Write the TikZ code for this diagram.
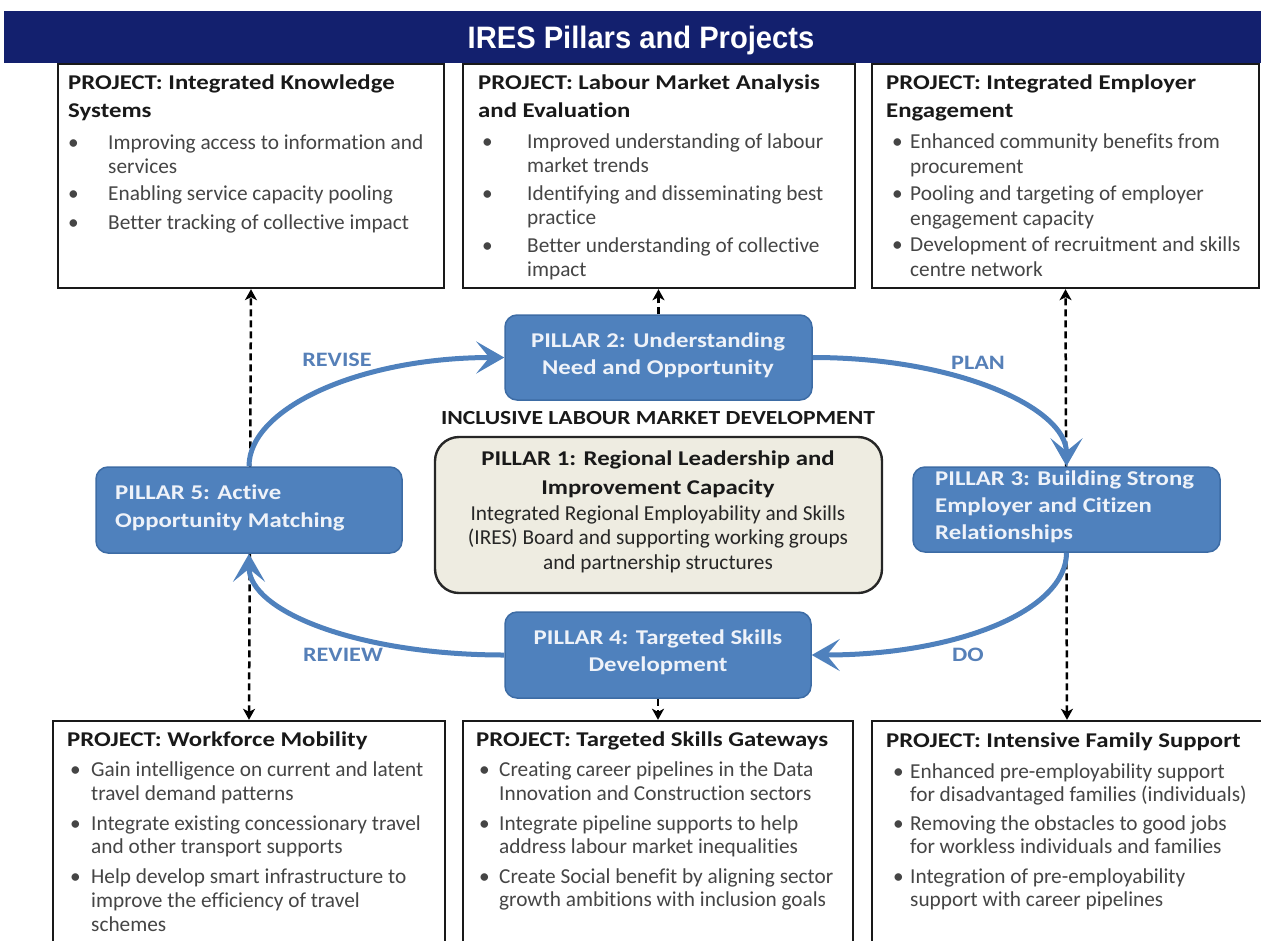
\documentclass[tikz,border=0pt]{standalone}
\usepackage{fontspec}
\setmainfont{Carlito}[Ligatures=NoCommon]
\newfontfamily\wbold{Carlito}[FakeStretch=1.18,Ligatures=NoCommon]
\newfontfamily\arialf{Liberation Sans}[FakeStretch=0.94]
\usetikzlibrary{arrows.meta}
\pgfdeclarelayer{bg}
\pgfsetlayers{bg,main}
\definecolor{navy}{HTML}{13206E}
\definecolor{pblue}{HTML}{4F81BD}
\definecolor{pborder}{HTML}{3D6CA5}
\definecolor{beige}{HTML}{EEECE1}
\definecolor{bodygray}{HTML}{454545}
\definecolor{lblblue}{HTML}{5680B8}
\definecolor{ptxt}{HTML}{EEF2F9}
\tikzset{
  projbox/.style={draw=black!90, line width=2.4pt, fill=white, inner sep=0pt},
  pillarbox/.style={draw=pborder, line width=1.5pt, fill=pblue, rounded corners=12pt, inner sep=0pt},
  corebox/.style={draw=black!85, line width=2.4pt, fill=beige, rounded corners=24pt, inner sep=0pt},
  ptext/.style={text=ptxt, font=\wbold\fontsize{21}{24}\selectfont\bfseries, inner sep=0pt},
  htext/.style={anchor=mid west, inner sep=0pt, font=\wbold\fontsize{21}{24}\selectfont\bfseries, text=black!90},
  btext/.style={anchor=mid west, inner sep=0pt, font=\fontsize{21.3}{24}\selectfont, text=bodygray},
  ctext/.style={anchor=mid, inner sep=0pt, font=\fontsize{21.3}{24}\selectfont, text=black!85},
  cbold/.style={anchor=mid, inner sep=0pt, font=\wbold\fontsize{21}{24}\selectfont\bfseries, text=black!90},
  lbl/.style={anchor=center, inner sep=0pt, font=\wbold\fontsize{20.5}{22}\selectfont\bfseries, text=lblblue},
  dasharrow/.style={draw=black, line width=2.5pt, dash pattern=on 7pt off 4pt,
    {Stealth[length=11pt,width=12pt,inset=3pt]}-{Stealth[length=11pt,width=12pt,inset=3pt]}},
  dashone/.style={draw=black, line width=2.5pt, dash pattern=on 7pt off 4pt,
    -{Stealth[length=11pt,width=12pt,inset=3pt]}},
  bluearrow/.style={draw=pblue, line width=5pt, -{Stealth[length=28pt,width=32pt,inset=13pt]}},
}
\newcommand\rect[6]{\node[#2, minimum width={(#5-#3)*1pt}, minimum height={(#6-#4)*1pt}] (#1) at ({(#3+#5)/2},{(#4+#6)/2}) {};}
\newcommand\bitem[5]{\node[btext] (#1b) at (#2,#4) {\textbullet}; \node[btext] (#1) at (#3,#4) {#5};}
\newcommand\bline[4]{\node[btext] (#1) at (#2,#3) {#4};}
\begin{document}
\begin{tikzpicture}[x=1pt,y=-1pt]
\useasboundingbox (0,0) rectangle (1261,940);
\clip (0,0) rectangle (1261,940);
% title
\rect{titlebar}{fill=navy, inner sep=0pt}{4}{11}{1261}{63}
\node[text=white, font=\arialf\fontsize{31}{34}\selectfont\bfseries, inner sep=0pt, anchor=center] (title) at (641,40) {IRES Pillars and Projects};
% project boxes
\rect{A}{projbox}{58}{64}{444}{288}
\rect{B}{projbox}{463}{64}{855}{288}
\rect{C}{projbox}{872}{64}{1259}{288}
\rect{D}{projbox}{53}{721}{445}{960}
\rect{E}{projbox}{463}{721}{853}{960}
\rect{F}{projbox}{872}{721}{1262}{960}
% pillars
\rect{P2}{pillarbox}{505}{315}{812}{400}
\rect{P1}{corebox}{435}{437}{882}{593}
\rect{P5}{pillarbox}{96}{467}{402}{553}
\rect{P3}{pillarbox}{913}{467}{1220}{552}
\rect{P4}{pillarbox}{505}{612}{811}{698}
% dashed connectors
\begin{pgfonlayer}{bg}
\draw[dasharrow] (D.north) -- (A.south);
\draw[dasharrow] (F.north) -- (C.south);
\end{pgfonlayer}
\draw[dashone] (P2.north) -- (P2.north |- B.south);
\draw[dashone] (P4.south) -- (P4.south |- E.north);
% cycle arrows
\draw[bluearrow] (P5.north) .. controls +(0,-58) and +(-145,0) .. (P2.west);
\draw[bluearrow] (P2.east) .. controls +(145,0) and +(0,-58) .. (P3.north);
\draw[bluearrow] (P3.south) .. controls +(0,58) and +(145,0) .. (P4.east);
\draw[bluearrow] (P4.west) .. controls +(-145,0) and +(0,58) .. (P5.south);
\node[lbl] (lrevise) at (337,360) {REVISE};
\node[lbl] (lplan) at (978,363) {PLAN};
\node[lbl] (ldo) at (968,655) {DO};
\node[lbl] (lreview) at (343,655) {REVIEW};
% pillar texts
\node[ptext, anchor=mid] (p2a) at (658,345) {PILLAR 2: Understanding};
\node[ptext, anchor=mid] (p2b) at (658,372) {Need and Opportunity};
\node[ptext, anchor=mid] (p4a) at (658,642) {PILLAR 4: Targeted Skills};
\node[ptext, anchor=mid] (p4b) at (658,669) {Development};
\node[ptext, anchor=mid west] (p5a) at (115,497) {PILLAR 5: Active};
\node[ptext, anchor=mid west] (p5b) at (115,525) {Opportunity Matching};
\node[ptext, anchor=mid west] (p3a) at (935,483) {PILLAR 3: Building Strong};
\node[ptext, anchor=mid west] (p3b) at (935,510) {Employer and Citizen};
\node[ptext, anchor=mid west] (p3c) at (935,537) {Relationships};
\node[cbold, font=\wbold\fontsize{20}{24}\selectfont\bfseries] (ilmd) at (658,422) {INCLUSIVE LABOUR MARKET DEVELOPMENT};
\node[cbold] (p1a) at (658,463) {PILLAR 1: Regional Leadership and};
\node[cbold] (p1b) at (658,492) {Improvement Capacity};
\node[ctext] (p1c) at (658,518) {Integrated Regional Employability and Skills};
\node[ctext] (p1d) at (658,542) {(IRES) Board and supporting working groups};
\node[ctext] (p1e) at (658,567) {and partnership structures};
% box A
\node[htext] (ah1) at (68,87) {PROJECT: Integrated Knowledge};
\node[htext] (ah2) at (68,115) {Systems};
\bitem{a1}{68}{108}{147}{Improving access to information and}
\bline{a1c}{108}{171}{services}
\bitem{a2}{68}{108}{198}{Enabling service capacity pooling}
\bitem{a3}{68}{108}{227}{Better tracking of collective impact}
% box B
\node[htext] (bh1) at (478,87) {PROJECT: Labour Market Analysis};
\node[htext] (bh2) at (478,115) {and Evaluation};
\bitem{b1}{482}{527}{146}{Improved understanding of labour}
\bline{b1c}{527}{170}{market trends}
\bitem{b2}{482}{527}{198}{Identifying and disseminating best}
\bline{b2c}{527}{222}{practice}
\bitem{b3}{482}{527}{250}{Better understanding of collective}
\bline{b3c}{527}{274}{impact}
% box C
\node[htext] (ch1) at (886,87) {PROJECT: Integrated Employer};
\node[htext] (ch2) at (886,115) {Engagement};
\bitem{c1}{892}{910}{146}{Enhanced community benefits from}
\bline{c1c}{910}{171}{procurement}
\bitem{c2}{892}{910}{198}{Pooling and targeting of employer}
\bline{c2c}{910}{223}{engagement capacity}
\bitem{c3}{892}{910}{249}{Development of recruitment and skills}
\bline{c3c}{910}{274}{centre network}
% box D
\node[htext] (dh1) at (67,744) {PROJECT: Workforce Mobility};
\bitem{d1}{70}{91}{774}{Gain intelligence on current and latent}
\bline{d1c}{91}{798}{travel demand patterns}
\bitem{d2}{70}{91}{828}{Integrate existing concessionary travel}
\bline{d2c}{91}{851}{and other transport supports}
\bitem{d3}{70}{91}{881}{Help develop smart infrastructure to}
\bline{d3c}{91}{905}{improve the efficiency of travel}
\bline{d3d}{91}{929}{schemes}
% box E
\node[htext] (eh1) at (476,744) {PROJECT: Targeted Skills Gateways};
\bitem{e1}{479}{499}{774}{Creating career pipelines in the Data}
\bline{e1c}{499}{798}{Innovation and Construction sectors}
\bitem{e2}{479}{499}{828}{Integrate pipeline supports to help}
\bline{e2c}{499}{851}{address labour market inequalities}
\bitem{e3}{479}{499}{881}{Create Social benefit by aligning sector}
\bline{e3c}{499}{904}{growth ambitions with inclusion goals}
% box F
\node[htext] (fh1) at (886,745) {PROJECT: Intensive Family Support};
\bitem{f1}{893}{910}{776}{Enhanced pre-employability support}
\bline{f1c}{910}{799}{for disadvantaged families (individuals)}
\bitem{f2}{893}{910}{828}{Removing the obstacles to good jobs}
\bline{f2c}{910}{851}{for workless individuals and families}
\bitem{f3}{893}{910}{881}{Integration of pre-employability}
\bline{f3c}{910}{904}{support with career pipelines}
\end{tikzpicture}
\end{document}
